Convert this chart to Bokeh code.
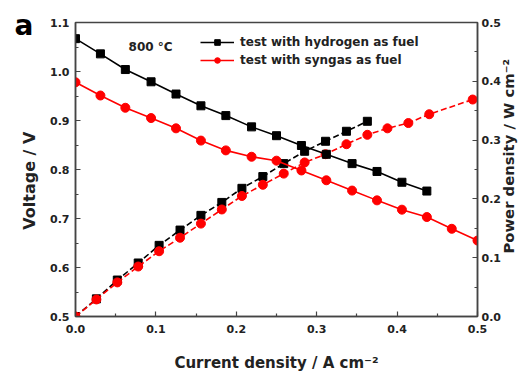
import math
from bokeh.plotting import figure
from bokeh.models import (Range1d, LinearAxis, Label, Legend, LegendItem, PrintfTickFormatter,
                          FixedTicker, CustomJSTickFormatter)
from bokeh.embed import file_html
from bokeh.resources import INLINE

# Voltage curves
cur_v_h2 = [0.0, 0.031, 0.062, 0.094, 0.125, 0.156, 0.187, 0.219, 0.25, 0.281, 0.312, 0.344, 0.375, 0.406, 0.437]
volt_h2 = [1.067, 1.036, 1.004, 0.979, 0.954, 0.930, 0.910, 0.887, 0.869, 0.849, 0.831, 0.812, 0.796, 0.774, 0.756]
cur_v_syn = [0.0, 0.031, 0.062, 0.094, 0.125, 0.156, 0.187, 0.219, 0.25, 0.281, 0.312, 0.344, 0.375, 0.406, 0.437, 0.468, 0.5]
volt_syn = [0.978, 0.951, 0.926, 0.905, 0.884, 0.859, 0.839, 0.826, 0.818, 0.798, 0.778, 0.757, 0.737, 0.718, 0.703, 0.679, 0.655]

# Power density curves
cur_p_h2 = [0.0, 0.026, 0.052, 0.078, 0.104, 0.13, 0.156, 0.182, 0.207, 0.233, 0.259, 0.285, 0.311, 0.337, 0.363]
pow_h2 = [0.0, 0.030, 0.062, 0.091, 0.121, 0.147, 0.172, 0.194, 0.218, 0.238, 0.260, 0.281, 0.298, 0.315, 0.332]
cur_p_syn = [0.0, 0.026, 0.052, 0.078, 0.104, 0.13, 0.156, 0.182, 0.207, 0.233, 0.259, 0.285, 0.311, 0.337, 0.363, 0.388, 0.414, 0.440, 0.494]
pow_syn = [0.0, 0.029, 0.058, 0.085, 0.111, 0.134, 0.158, 0.182, 0.205, 0.224, 0.243, 0.262, 0.276, 0.293, 0.309, 0.320, 0.329, 0.344, 0.369]

x_ticks = [0.0, 0.1, 0.2, 0.3, 0.4, 0.5]
y_ticks = [0.5, 0.6, 0.7, 0.8, 0.9, 1.0, 1.1]
y2_ticks = [0.0, 0.1, 0.2, 0.3, 0.4, 0.5]

x_title = "Current density / A cm\u207b\u00b2"
y_title = "Voltage / V"
y2_title = "Power density / W cm\u207b\u00b2"

FONT = "DejaVu Sans"
AX = "#444444"
TXT = "#222222"
NB = "\u00a0"

p = figure(width=528, height=375, output_backend="svg", toolbar_location=None,
           x_range=Range1d(0, 0.5), y_range=Range1d(0.5, 1.1),
           min_border_left=75, min_border_right=51, min_border_top=22, min_border_bottom=59)
p.extra_y_ranges = {"pw": Range1d(0, 0.5)}
p.xgrid.visible = False
p.ygrid.visible = False
p.outline_line_color = AX
p.outline_line_width = 1.5
p.background_fill_color = "white"
p.border_fill_color = "white"

# panel letter as the title, pushed to the left of the frame
p.title.text = "a"
p.title.align = "left"
p.title.offset = -61
p.title.standoff = -38
p.title.text_font = FONT
p.title.text_font_size = "28px"
p.title.text_font_style = "bold"
p.title.text_color = "black"

right = LinearAxis(y_range_name="pw")
p.add_layout(right, "right")

def style_axis(ax, ticks, label, size):
    ax.ticker = FixedTicker(ticks=ticks, minor_ticks=[t + 0.05 for t in ticks[:-1]])
    ax.formatter = PrintfTickFormatter(format="%.1f")
    ax.axis_line_color = AX
    ax.axis_line_width = 1.5
    ax.major_tick_in = 5
    ax.major_tick_out = 0
    ax.minor_tick_in = 3
    ax.minor_tick_out = 0
    ax.major_tick_line_color = AX
    ax.minor_tick_line_color = AX
    ax.major_tick_line_width = 1.2
    ax.minor_tick_line_width = 1.2
    ax.major_label_text_font = FONT
    ax.major_label_text_font_style = "bold"
    ax.major_label_text_font_size = "11px"
    ax.major_label_text_color = TXT
    if label:
        ax.axis_label = label
        ax.axis_label_text_font = FONT
        ax.axis_label_text_font_style = "bold"
        ax.axis_label_text_font_size = size
        ax.axis_label_text_color = TXT

style_axis(p.xaxis[0], x_ticks, x_title, "15px")
style_axis(p.yaxis[0], y_ticks, y_title + NB * 4, "16px")
style_axis(right, y2_ticks, None, None)
p.xaxis[0].major_label_standoff = 8
p.xaxis[0].axis_label_standoff = 18
p.yaxis[0].major_label_standoff = 6
p.yaxis[0].axis_label_standoff = 8
right.major_label_standoff = 4

# right-hand title, reading bottom-to-top, drawn as the single label of a bare axis
title_axis = LinearAxis(y_range_name="pw", ticker=FixedTicker(ticks=[0.107], minor_ticks=[]),
                        formatter=CustomJSTickFormatter(args=dict(t=y2_title), code="return t"))
title_axis.axis_line_color = None
title_axis.major_tick_line_color = None
title_axis.minor_tick_line_color = None
title_axis.major_tick_in = 0
title_axis.major_tick_out = 0
title_axis.major_label_standoff = 5
title_axis.major_label_orientation = math.pi / 2
title_axis.major_label_text_font = FONT
title_axis.major_label_text_font_style = "bold"
title_axis.major_label_text_font_size = "14.8px"
title_axis.major_label_text_color = TXT
p.add_layout(title_axis, "right")

# power curves (dashed)
p.line(cur_p_h2, pow_h2, y_range_name="pw", line_color="black", line_width=1.6, line_dash="6 3")
p.scatter(cur_p_h2, pow_h2, y_range_name="pw", marker="square", size=8, color="black")
p.line(cur_p_syn, pow_syn, y_range_name="pw", line_color="red", line_width=1.6, line_dash="6 3")
p.scatter(cur_p_syn, pow_syn, y_range_name="pw", marker="circle", size=9, color="red")

# voltage curves (solid)
lh = p.line(cur_v_h2, volt_h2, line_color="black", line_width=1.6)
mh = p.scatter(cur_v_h2, volt_h2, marker="square", size=8, color="black")
ls = p.line(cur_v_syn, volt_syn, line_color="red", line_width=1.6)
ms = p.scatter(cur_v_syn, volt_syn, marker="circle", size=9, color="red")

legend = Legend(items=[LegendItem(label="test with hydrogen as fuel", renderers=[lh, mh]),
                       LegendItem(label="test with syngas as fuel", renderers=[ls, ms])],
                location=(125, 249), orientation="vertical",
                border_line_color=None, background_fill_alpha=0,
                padding=0, margin=0, spacing=4, glyph_width=34, glyph_height=14,
                label_height=14, label_standoff=6,
                label_text_font=FONT, label_text_font_size="12px", label_text_font_style="bold",
                label_text_color=TXT)
p.add_layout(legend, "center")

p.add_layout(Label(x=0.066, y=1.05, text="800 \u00b0C", text_font=FONT, text_font_size="12px",
                   text_font_style="bold", text_color=TXT, text_baseline="middle"))

open("out.html", "w").write(file_html(p, INLINE))
